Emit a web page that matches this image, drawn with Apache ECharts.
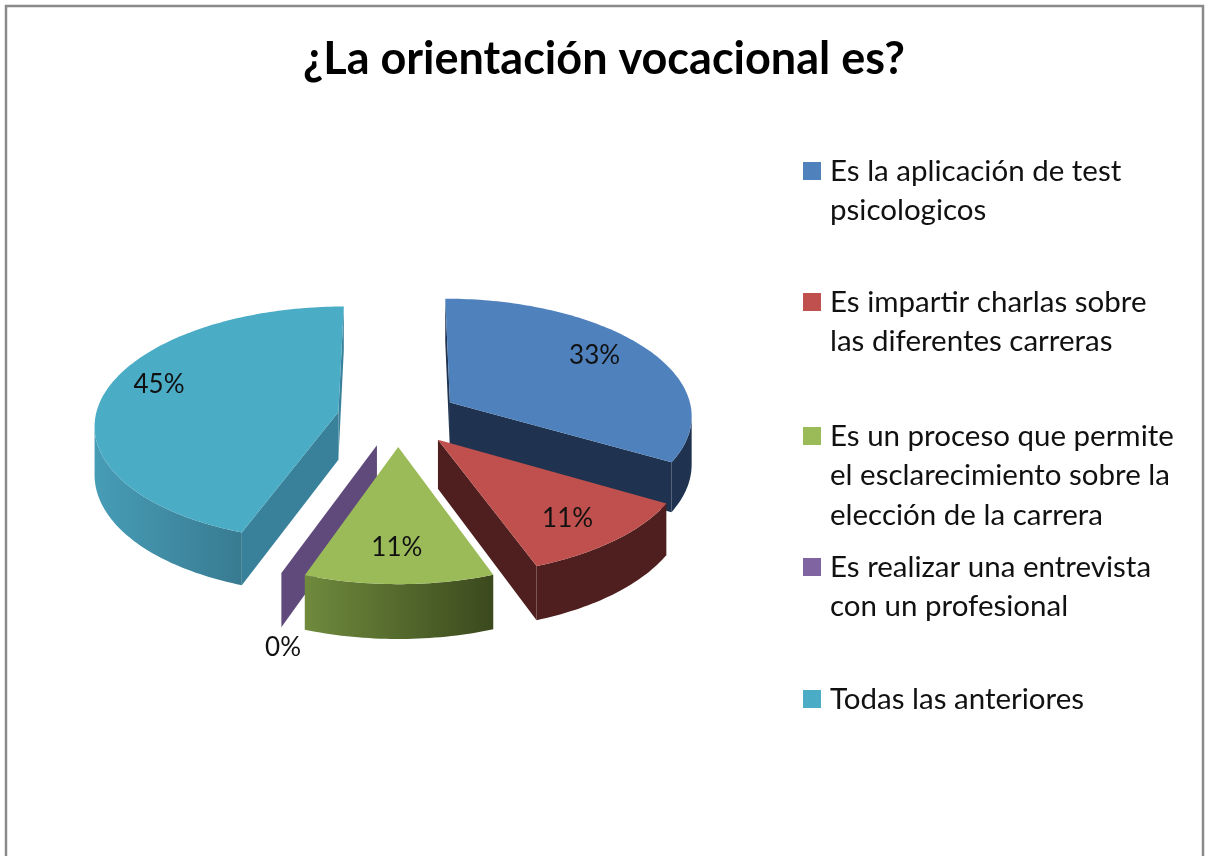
<!DOCTYPE html>
<html>
<head>
<meta charset="utf-8">
<style>html,body{margin:0;padding:0;background:#fff}#c{width:1208px;height:856px}</style>
<script src="https://cdn.jsdelivr.net/npm/echarts@6/dist/echarts.min.js"></script>
</head>
<body>
<div id="c"></div>
<script>
const titleText = '¿La orientación vocacional es?';
const categories = [
  'Es la aplicación de test\npsicologicos',
  'Es impartir charlas sobre\nlas diferentes carreras',
  'Es un proceso que permite\nel esclarecimiento sobre la\nelección de la carrera',
  'Es realizar una entrevista\ncon un profesional',
  'Todas las anteriores'
];
const percentValues = [33.3, 11.1, 11.1, 0, 44.5];

const topColors = ['#4F81BD', '#C0504D', '#9BBB59', '#8064A2', '#4BACC6'];
const arcWallFrom = ['#1F3350', '#4E1F1E', '#6F8A3D', '#604A7B', '#479CB6'];
const arcWallTo   = ['#1F3350', '#4E1F1E', '#3B491D', '#604A7B', '#387B91'];
const cutWallColors = ['#1F3350', '#4E1F1E', '#4F6329', '#604A7B', '#39819A'];
const labelReach = [0.72, 0.75, 0.757, 1.05, 0.77];
const labelNudge = [[2, -7], [0, 5], [-2, 0], [7, 13], [1, -12]];
const legendFirstLine = [171, 302, 436, 567, 699];
const legendLineHeight = 39.5;

const view = {cx: 398, cy: 417, rx: 243, ry: 117, persp: 0.1, depth: 48, explode: 0.25};
const total = percentValues.reduce((a, b) => a + b, 0);

function project(x, y, h) {
  const d = 1 + view.persp * y;
  return [view.cx + view.rx * x / d, view.cy - view.ry * y / d + h * view.depth / d];
}
function angles(i) {
  const before = percentValues.slice(0, i).reduce((a, b) => a + b, 0);
  const a0 = before / total * Math.PI * 2;
  const a1 = (before + percentValues[i]) / total * Math.PI * 2;
  return {a0, a1, mid: (a0 + a1) / 2};
}
function shoelace(p) {
  let s = 0;
  for (let i = 0; i < p.length; i++) {
    const q = p[(i + 1) % p.length];
    s += p[i][0] * q[1] - q[0] * p[i][1];
  }
  return s / 2;
}
function solid(color, pts) {
  return {type: 'polygon', shape: {points: pts}, style: {fill: color, stroke: null}};
}
function renderSlice(i) {
  const {a0, a1, mid} = angles(i);
  const ox = view.explode * Math.sin(mid), oy = view.explode * Math.cos(mid);
  const steps = Math.max(1, Math.ceil((a1 - a0) / 0.02));
  const rim = [];
  for (let s = 0; s <= steps; s++) {
    const a = a0 + (a1 - a0) * s / steps;
    rim.push([ox + Math.sin(a), oy + Math.cos(a)]);
  }
  const apex = [ox, oy];
  const quad = (p, q) => [project(p[0], p[1], 0), project(q[0], q[1], 0), project(q[0], q[1], 1), project(p[0], p[1], 1)];
  const children = [];
  [[apex, rim[0]], [rim[rim.length - 1], apex]].forEach(([p, q]) => {
    const w = quad(p, q);
    if (shoelace(w) < 0) children.push(solid(cutWallColors[i], w));
  });
  if (a1 > a0) {
    let run = null;
    const flush = () => {
      if (!run) return;
      const top = run.map(p => project(p[0], p[1], 0));
      const bottom = run.map(p => project(p[0], p[1], 1)).reverse();
      const pts = top.concat(bottom);
      const xs = pts.map(p => p[0]);
      children.push({type: 'polygon', shape: {points: pts}, style: {
        fill: new echarts.graphic.LinearGradient(Math.min(...xs), 0, Math.max(...xs), 0,
          [{offset: 0, color: arcWallFrom[i]}, {offset: 1, color: arcWallTo[i]}], true)
      }});
      run = null;
    };
    for (let s = 0; s < rim.length - 1; s++) {
      if (shoelace(quad(rim[s], rim[s + 1])) < 0) {
        if (!run) run = [rim[s]];
        run.push(rim[s + 1]);
      } else flush();
    }
    flush();
    const topFace = [apex].concat(rim).map(p => project(p[0], p[1], 0));
    children.push(solid(topColors[i], topFace));
  }
  const r = labelReach[i];
  const lp = project(ox + r * Math.sin(mid), oy + r * Math.cos(mid), a1 > a0 ? 0 : 1);
  children.push({type: 'text', z2: 10, style: {
    text: Math.round(percentValues[i]) + '%',
    x: lp[0] + labelNudge[i][0], y: lp[1] + labelNudge[i][1],
    align: 'center', verticalAlign: 'middle',
    fill: '#111', font: '26px Lato'
  }});
  return {type: 'group', children};
}

const series = categories.map((name, i) => ({
  type: 'custom',
  name,
  coordinateSystem: 'none',
  z: 2 + Math.round((1 - Math.cos(angles(i).mid)) * 10),
  itemStyle: {color: topColors[i]},
  silent: true,
  data: [percentValues[i]],
  renderItem: () => renderSlice(i)
}));

// Legend text is centred on its swatch, so blank lines are added above
// to bring the swatch level with the first line of each entry.
const lineCount = categories.map(c => c.split('\n').length);
const legend = categories.map((name, i) => ({
  data: [name],
  left: 803,
  top: legendFirstLine[i] - (2 * lineCount[i] - 1) * legendLineHeight / 2,
  padding: 0,
  icon: 'rect',
  itemWidth: 18,
  itemHeight: 18,
  selectedMode: false,
  formatter: n => ' \n'.repeat(lineCount[i] - 1) + n,
  textStyle: {
    fontFamily: 'Lato', fontSize: 29.5, color: '#111',
    lineHeight: legendLineHeight, padding: [0, 0, 0, 4]
  }
}));

const chart = echarts.init(document.getElementById('c'), null, {renderer: 'canvas'});
chart.setOption({
  animation: false,
  backgroundColor: '#fff',
  title: {
    text: titleText, left: 'center', top: 32,
    textStyle: {fontFamily: 'Lato', fontWeight: 'bold', fontSize: 45, color: '#000'}
  },
  legend,
  graphic: [{
    type: 'rect', silent: true, z: 0,
    shape: {x: 6, y: 6, width: 1197, height: 900},
    style: {fill: 'none', stroke: '#8A8A8A', lineWidth: 2.5}
  }],
  series
});
</script>
</body>
</html>
